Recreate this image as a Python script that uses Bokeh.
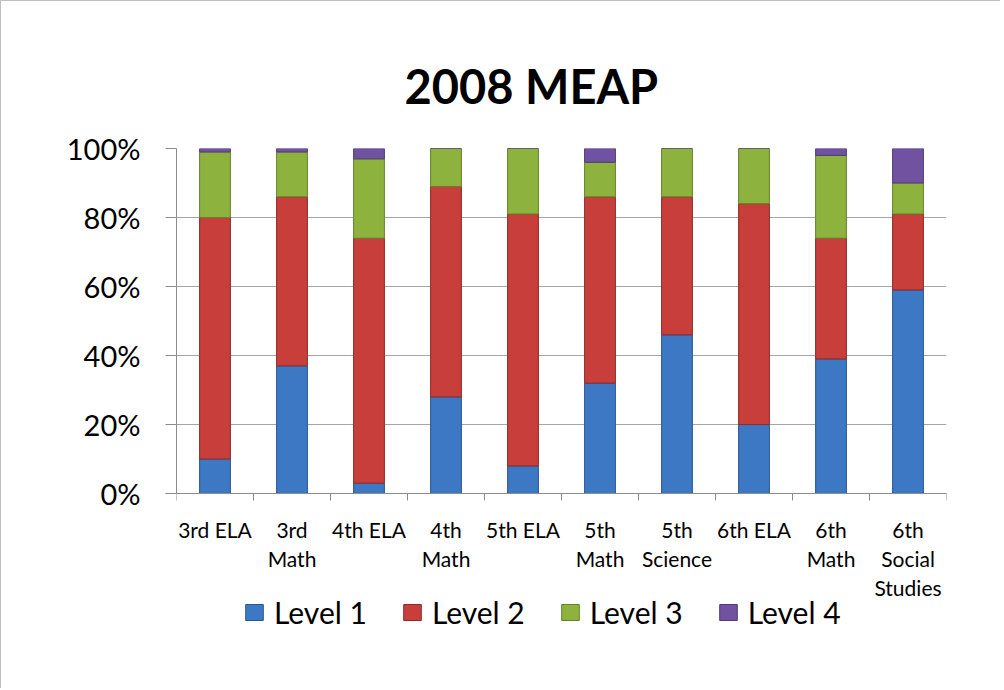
from bokeh.plotting import figure
from bokeh.models import ColumnDataSource, Range1d, FixedTicker, NumeralTickFormatter
from bokeh.embed import file_html
from bokeh.resources import INLINE

categories = ["3rd ELA", "3rd Math", "4th ELA", "4th Math", "5th ELA",
              "5th Math", "5th Science", "6th ELA", "6th Math", "6th Social Studies"]
tick_labels = ["3rd ELA", "3rd\nMath", "4th ELA", "4th\nMath", "5th ELA",
               "5th\nMath", "5th\nScience", "6th ELA", "6th\nMath", "6th\nSocial\nStudies"]
level1 = [10, 37, 3, 28, 8, 32, 46, 20, 39, 59]
level2 = [70, 49, 71, 61, 73, 54, 40, 64, 35, 22]
level3 = [19, 13, 23, 11, 19, 10, 14, 16, 24, 9]
level4 = [1, 1, 3, 0, 0, 4, 0, 0, 2, 10]
series_names = ["Level 1", "Level 2", "Level 3", "Level 4"]
colors = ["#3C78C4", "#C83E3A", "#8DB23E", "#7052A0"]
edge_colors = ["#2A578F", "#8E2A27", "#66812B", "#513A76"]

FONT = "Lato"

# layout constants (pixels)
FIG_W, FIG_H = 1000, 688
FRAME_TOP, AXIS_Y = 147, 492          # y of 100% and 0%
unit_px = AXIS_Y - FRAME_TOP
y_bottom = -(FIG_H - AXIS_Y) / unit_px  # extend frame below 0 to hold labels+legend

xs = [i + 0.5 for i in range(len(categories))]
data = {"x": xs, "cat": categories}
keys = ["l1", "l2", "l3", "l4"]
for k, vals in zip(keys, [level1, level2, level3, level4]):
    data[k] = [v / 100 for v in vals]
src = ColumnDataSource(data)

p = figure(width=FIG_W, height=FIG_H, output_backend="svg", toolbar_location=None,
           x_range=Range1d(0, len(categories)), y_range=Range1d(y_bottom, 1),
           title="2008 MEAP")
p.min_border_left = 175
p.min_border_right = 55
p.min_border_top = FRAME_TOP
p.min_border_bottom = 0
p.outline_line_color = None
p.styles = {"border-top": "1px solid #BFBFBF", "border-left": "1px solid #BFBFBF"}

p.title.text_font = FONT
p.title.text_font_size = "47px"
p.title.text_font_style = "bold"
p.title.text_color = "#000000"
p.title.align = "left"
p.title.offset = 228
p.title.standoff = 70

renderers = p.vbar_stack(keys, x="x", width=0.4, source=src, color=colors,
                         line_color=edge_colors, line_width=1,
                         legend_label=series_names)

# y axis
p.yaxis.ticker = FixedTicker(ticks=[0, 0.2, 0.4, 0.6, 0.8, 1.0], minor_ticks=[])
p.yaxis.formatter = NumeralTickFormatter(format="0%")
p.yaxis.bounds = (0, 1)
p.yaxis.major_label_text_font = FONT
p.yaxis.major_label_text_font_size = "29px"
p.yaxis.major_label_text_color = "#000000"
p.yaxis.major_tick_out = 11
p.yaxis.major_tick_in = 0
p.yaxis.major_label_standoff = 25
p.yaxis.axis_line_color = "#8C8C8C"
p.yaxis.major_tick_line_color = "#8C8C8C"

# x axis, pinned at 0%
p.xaxis.fixed_location = 0
p.xaxis.ticker = FixedTicker(ticks=xs, minor_ticks=list(range(len(categories) + 1)))
p.xaxis.major_label_overrides = {x: lab for x, lab in zip(xs, tick_labels)}
p.xaxis.major_label_text_font = FONT
p.xaxis.major_label_text_font_size = "21px"
p.xaxis.major_label_text_color = "#000000"
p.xaxis.major_label_text_line_height = 1.17
p.xaxis.major_tick_out = 0
p.xaxis.major_tick_in = 0
p.xaxis.minor_tick_out = 7
p.xaxis.minor_tick_in = 0
p.xaxis.minor_tick_line_color = "#8C8C8C"
p.xaxis.major_label_standoff = 16
p.xaxis.axis_line_color = "#8C8C8C"

p.xgrid.grid_line_color = None
p.ygrid.grid_line_color = "#A6A6A6"
p.ygrid.grid_line_width = 1

lg = p.legend[0]
lg.orientation = "horizontal"
lg.location = (67, 59)
lg.padding = 0
lg.margin = 0
lg.border_line_color = None
lg.background_fill_alpha = 0
lg.glyph_width = 22
lg.glyph_height = 20
lg.label_text_font = FONT
lg.label_text_font_size = "30px"
lg.label_text_color = "#000000"
lg.label_standoff = 9
lg.spacing = 34

open("out.html", "w").write(file_html(p, INLINE))
